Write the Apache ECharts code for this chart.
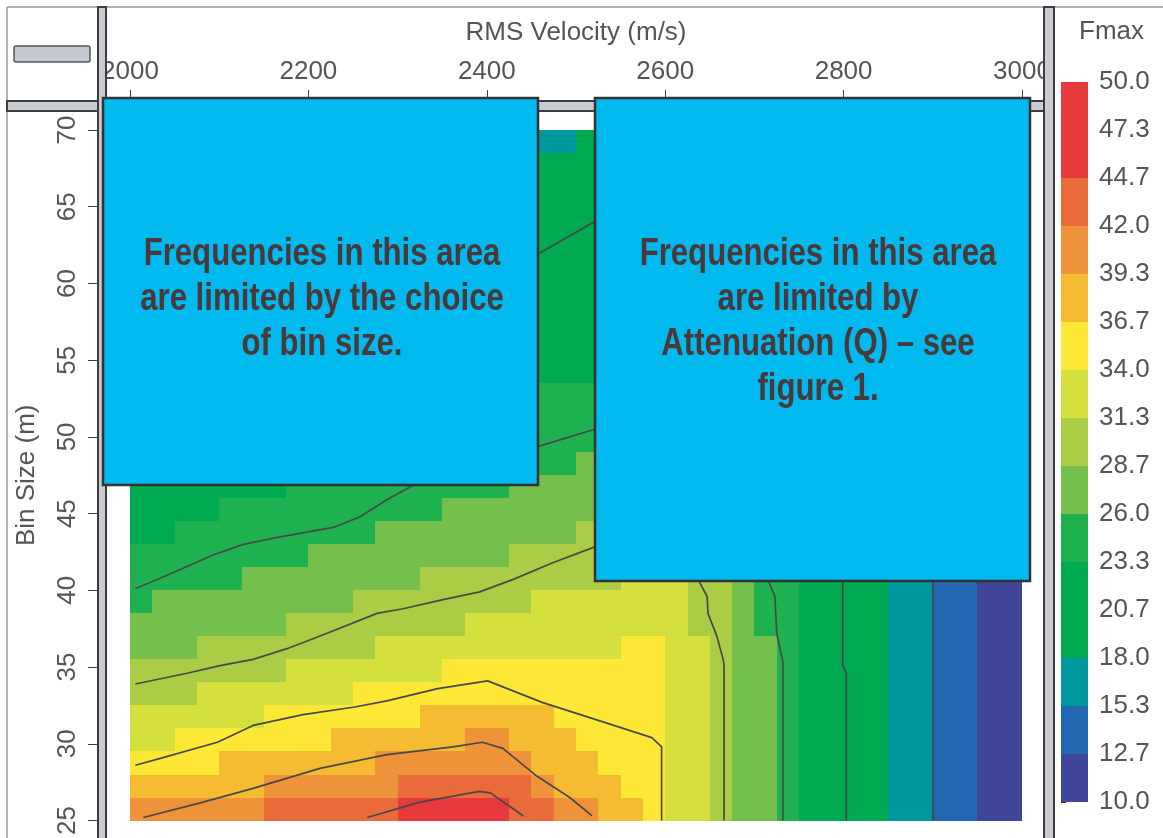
<!DOCTYPE html>
<html>
<head>
<meta charset="utf-8">
<title>Fmax by RMS velocity and bin size</title>
<script src="https://cdn.jsdelivr.net/npm/echarts@6/dist/echarts.min.js"></script>
<style>
  html, body { margin: 0; padding: 0; background: #fff; }
  #chart { width: 1163px; height: 838px; }
</style>
</head>
<body>
<div id="chart"></div>
<script>
// cell start of each column (m/s) and each row (m)
const velocity = [2000, 2025, 2050, 2075, 2100, 2125, 2150, 2175, 2200, 2225,
  2250, 2275, 2300, 2325, 2350, 2375, 2400, 2425, 2450, 2475,
  2500, 2525, 2550, 2575, 2600, 2625, 2650, 2675, 2700, 2725,
  2750, 2775, 2800, 2825, 2850, 2875, 2900, 2925, 2950, 2975];
const binSize = [25, 26.5, 28, 29.5, 31, 32.5, 34, 35.5, 37, 38.5,
  40, 41.5, 43, 44.5, 46, 47.5, 49, 50.5, 52, 53.5,
  55, 56.5, 58, 59.5, 61, 62.5, 64, 65.5, 67, 68.5];

// Fmax (Hz), one row per bin size, bottom row first
const fmaxRows = [
  [39.4, 39.6, 40.1, 40.5, 41.0, 41.5, 42.0, 42.5, 43.0, 43.4, 43.9, 44.4, 44.9, 45.4, 45.9, 46.4, 46.0, 43.5, 42.2, 40.5, 39.5, 38.0, 37.0, 35.0, 33, 33, 30, 27, 27, 25, 21, 21, 21, 21, 17, 17, 14, 14, 11, 11],
  [36.9, 37.4, 37.8, 38.3, 38.8, 39.2, 39.7, 40.1, 40.6, 41.1, 41.5, 41.9, 42.4, 42.9, 43.4, 43.8, 44.3, 42.3, 40.5, 38.5, 38.0, 37.5, 35.0, 35.0, 33, 33, 30, 27, 27, 25, 21, 21, 21, 21, 17, 17, 14, 14, 11, 11],
  [35.0, 35.4, 35.9, 36.3, 36.7, 37.2, 37.6, 38.0, 38.5, 38.9, 39.3, 39.8, 40.2, 40.7, 41.1, 41.5, 41.5, 39.5, 38.5, 38.0, 37.5, 36.0, 35.0, 35.0, 33, 33, 30, 27, 27, 25, 21, 21, 21, 21, 17, 17, 14, 14, 11, 11],
  [33.3, 33.7, 34.1, 34.5, 34.9, 35.3, 35.7, 36.2, 36.6, 37.0, 37.4, 37.8, 38.2, 38.6, 39.1, 39.5, 39.5, 38.5, 38.0, 37.5, 36.5, 35.0, 35.0, 35.0, 33, 33, 30, 27, 27, 25, 21, 21, 21, 21, 17, 17, 14, 14, 11, 11],
  [31.7, 32.1, 32.5, 32.9, 33.3, 33.7, 34.1, 34.5, 34.8, 35.2, 35.6, 36.0, 36.4, 36.8, 37.2, 37.6, 38.0, 37.5, 37.0, 36.0, 35.0, 35.0, 35.0, 35.0, 33, 33, 30, 27, 27, 25, 21, 21, 21, 21, 17, 17, 14, 14, 11, 11],
  [30.3, 30.6, 31.0, 31.4, 31.8, 32.1, 32.5, 32.9, 33.3, 33.6, 34.0, 34.4, 34.8, 35.2, 35.5, 35.9, 36.3, 35.5, 35.0, 35.0, 35.0, 35.0, 35.0, 35.0, 33, 33, 30, 27, 27, 25, 21, 21, 21, 21, 17, 17, 14, 14, 11, 11],
  [29.0, 29.3, 29.7, 30.0, 30.4, 30.8, 31.1, 31.5, 31.8, 32.2, 32.5, 32.9, 33.3, 33.6, 34.0, 34.4, 34.7, 34.5, 35.0, 35.0, 35.0, 35.0, 35.0, 35.0, 33, 33, 30, 27, 27, 25, 21, 21, 21, 21, 17, 17, 14, 14, 11, 11],
  [27.8, 28.1, 28.5, 28.8, 29.1, 29.5, 29.8, 30.2, 30.5, 30.9, 31.2, 31.6, 31.9, 32.2, 32.6, 32.9, 33.3, 33.5, 33.5, 33.5, 33.5, 33.8, 34.2, 34.5, 33, 33, 30, 27, 27, 25, 21, 21, 21, 21, 17, 17, 14, 14, 11, 11],
  [26.7, 27.0, 27.3, 27.7, 28.0, 28.3, 28.6, 29.0, 29.3, 29.6, 30.0, 30.3, 30.6, 31.0, 31.3, 31.6, 32.0, 32.3, 32.6, 33.0, 33.3, 33.6, 33.9, 33.5, 33.0, 30, 30, 27, 25, 25, 21, 21, 21, 21, 17, 17, 14, 14, 11, 11],
  [25.6, 26.0, 26.3, 26.6, 26.9, 27.2, 27.5, 27.9, 28.2, 28.5, 28.8, 29.1, 29.5, 29.8, 30.1, 30.4, 30.7, 31.0, 31.4, 31.7, 32.0, 32.3, 32.6, 33.0, 33.0, 30, 30, 27, 25, 25, 21, 21, 21, 21, 17, 17, 14, 14, 11, 11],
  [24.7, 25.0, 25.3, 25.6, 25.9, 26.2, 26.5, 26.8, 27.1, 27.5, 27.8, 28.1, 28.4, 28.7, 29.0, 29.3, 29.6, 29.9, 30.2, 30.5, 30.8, 31.1, 31.4, 31.7, 32.1, 30, 30, 27, 25, 25, 21, 21, 21, 21, 17, 17, 14, 14, 11, 11],
  [23.8, 24.1, 24.4, 24.7, 25.0, 25.3, 25.6, 25.9, 26.2, 26.5, 26.8, 27.1, 27.4, 27.7, 28.0, 28.3, 28.6, 28.9, 29.1, 29.4, 29.7, 30.0, 30.3, 30.6, 30.9, 30, 30, 27, 25, 25, 21, 21, 21, 21, 17, 17, 14, 14, 11, 11],
  [23.0, 23.3, 23.6, 23.9, 24.1, 24.4, 24.7, 25.0, 25.3, 25.6, 25.9, 26.1, 26.4, 26.7, 27.0, 27.3, 27.6, 27.9, 28.1, 28.4, 28.7, 29.0, 29.3, 29.6, 29.9, 29.5, 29, 27, 25, 25, 21, 21, 21, 21, 17, 17, 14, 14, 11, 11],
  [22.2, 22.5, 22.8, 23.1, 23.4, 23.6, 23.9, 24.2, 24.4, 24.7, 25.0, 25.3, 25.6, 25.8, 26.1, 26.4, 26.6, 26.9, 27.2, 27.5, 27.8, 28.0, 28.3, 28.6, 28.9, 29, 28.5, 27, 25, 25, 21, 21, 21, 21, 17, 17, 14, 14, 11, 11],
  [21.5, 21.8, 22.1, 22.3, 22.6, 22.9, 23.1, 23.4, 23.7, 23.9, 24.2, 24.5, 24.7, 25.0, 25.3, 25.5, 25.8, 26.1, 26.3, 26.6, 26.9, 27.1, 27.4, 27.7, 28, 28, 28, 27, 25, 25, 21, 21, 21, 21, 17, 17, 14, 14, 11, 11],
  [20.9, 21.1, 21.4, 21.6, 21.9, 22.2, 22.4, 22.7, 22.9, 23.2, 23.5, 23.7, 24.0, 24.2, 24.5, 24.7, 25.0, 25.3, 25.5, 25.8, 26.0, 26.3, 26.6, 26.8, 27.1, 27.4, 27.6, 27, 25, 25, 21, 21, 21, 21, 17, 17, 14, 14, 11, 11],
  [20.2, 20.5, 20.7, 21.0, 21.2, 21.5, 21.7, 22.0, 22.2, 22.5, 22.7, 23.0, 23.2, 23.5, 23.7, 24.0, 24.2, 24.5, 24.7, 25.0, 25.2, 25.5, 25.8, 26.0, 26.3, 26.5, 26.8, 26.5, 25, 25, 21, 21, 21, 21, 17, 17, 14, 14, 11, 11],
  [19.6, 19.9, 20.1, 20.4, 20.6, 20.9, 21.1, 21.3, 21.6, 21.8, 22.1, 22.3, 22.6, 22.8, 23.0, 23.3, 23.5, 23.8, 24.0, 24.3, 24.5, 24.8, 25.0, 25.2, 25.5, 25.7, 26, 26, 25, 24, 21, 21, 21, 21, 17, 17, 14, 14, 11, 11],
  [19.1, 19.3, 19.6, 19.8, 20.0, 20.3, 20.5, 20.7, 21.0, 21.2, 21.4, 21.7, 21.9, 22.2, 22.4, 22.6, 22.9, 23.1, 23.4, 23.6, 23.8, 24.0, 24.3, 24.5, 24.8, 25, 25, 25, 24.5, 24, 21, 21, 21, 21, 17, 17, 14, 14, 11, 11],
  [18.6, 18.8, 19.0, 19.2, 19.5, 19.7, 19.9, 20.2, 20.4, 20.6, 20.9, 21.1, 21.3, 21.5, 21.8, 22.0, 22.2, 22.5, 22.7, 22.9, 23.2, 23.4, 23.6, 23.8, 24.1, 24.3, 24.5, 24.5, 24, 23.5, 21, 21, 21, 21, 17, 17, 14, 14, 11, 11],
  [18.1, 18.3, 18.5, 18.7, 19.0, 19.2, 19.4, 19.6, 19.8, 20.1, 20.3, 20.5, 20.7, 21.0, 21.2, 21.4, 21.6, 21.9, 22.1, 22.3, 22.5, 22.8, 23.0, 23.2, 23.4, 23.6, 23.9, 24, 23.5, 23, 21, 21, 21, 21, 17, 17, 14, 14, 11, 11],
  [17.6, 17.8, 18.0, 18.2, 18.5, 18.7, 18.9, 19.1, 19.3, 19.5, 19.8, 20.0, 20.2, 20.4, 20.6, 20.9, 21.1, 21.3, 21.5, 21.7, 21.9, 22.2, 22.4, 22.6, 22.8, 23.0, 23.3, 23.4, 23.0, 22.5, 21, 21, 21, 21, 17, 17, 14, 14, 11, 11],
  [17.1, 17.3, 17.6, 17.8, 18.0, 18.2, 18.4, 18.6, 18.8, 19.0, 19.3, 19.5, 19.7, 19.9, 20.1, 20.3, 20.5, 20.7, 21.0, 21.2, 21.4, 21.6, 21.8, 22.0, 22.2, 22.4, 22.7, 22.8, 22.5, 22.0, 21, 21, 21, 21, 17, 17, 14, 14, 11, 11],
  [16.7, 16.9, 17.1, 17.3, 17.5, 17.7, 17.9, 18.2, 18.4, 18.6, 18.8, 19.0, 19.2, 19.4, 19.6, 19.8, 20.0, 20.2, 20.4, 20.6, 20.9, 21.1, 21.3, 21.5, 21.7, 21.9, 22.1, 22.2, 22.0, 21.8, 21, 21, 21, 21, 17, 17, 14, 14, 11, 11],
  [16.3, 16.5, 16.7, 16.9, 17.1, 17.3, 17.5, 17.7, 17.9, 18.1, 18.3, 18.5, 18.7, 18.9, 19.1, 19.3, 19.5, 19.7, 19.9, 20.1, 20.3, 20.5, 20.7, 20.9, 21.1, 21.3, 21.5, 21.6, 21.5, 21.3, 21, 21, 20.5, 20, 17, 17, 14, 14, 11, 11],
  [15.9, 16.1, 16.3, 16.5, 16.7, 16.9, 17.1, 17.3, 17.5, 17.7, 17.9, 18.1, 18.3, 18.5, 18.7, 18.9, 19.1, 19.3, 19.5, 19.7, 19.9, 20.1, 20.3, 20.5, 20.6, 20.8, 21.0, 21.0, 21.0, 20.8, 20.5, 20.5, 20.0, 19.5, 17, 17, 14, 14, 11, 11],
  [15.5, 15.7, 15.9, 16.1, 16.3, 16.5, 16.7, 16.9, 17.1, 17.3, 17.5, 17.7, 17.9, 18.1, 18.2, 18.4, 18.6, 18.8, 19.0, 19.2, 19.4, 19.6, 19.8, 20.0, 20.2, 20.4, 20.5, 20.6, 20.6, 20.4, 20.0, 20.0, 19.5, 19.0, 17, 17, 14, 14, 11, 11],
  [15.2, 15.4, 15.6, 15.8, 15.9, 16.1, 16.3, 16.5, 16.7, 16.9, 17.1, 17.3, 17.5, 17.6, 17.8, 18.0, 18.2, 18.4, 18.6, 18.8, 19.0, 19.2, 19.3, 19.5, 19.7, 19.9, 20.0, 20.1, 20.1, 20.0, 19.6, 19.5, 19.0, 18.5, 17, 17, 14, 14, 11, 11],
  [14.9, 15.0, 15.2, 15.4, 15.6, 15.8, 16.0, 16.1, 16.3, 16.5, 16.7, 16.9, 17.1, 17.3, 17.4, 17.6, 17.8, 18.0, 18.2, 18.4, 18.5, 18.7, 18.9, 19.1, 19.3, 19.5, 19.6, 19.7, 19.7, 19.5, 19.2, 19.0, 18.7, 18.3, 17, 17, 14, 14, 11, 11],
  [14.5, 14.7, 14.9, 15.1, 15.3, 15.4, 15.6, 15.8, 16.0, 16.2, 16.3, 16.5, 16.7, 16.9, 17.1, 17.2, 17.4, 17.6, 17.8, 17.9, 18.1, 18.3, 18.5, 18.7, 18.9, 19.0, 19.2, 19.3, 19.3, 19.1, 18.8, 18.6, 18.3, 18.0, 17, 17, 14, 14, 11, 11]
];

// colour scale
const bandEdges = [10, 12.667, 15.333, 18, 20.667, 23.333, 26, 28.667, 31.333, 34, 36.667, 39.333, 42, 44.667, 47.333, 50];
const bandLabels = ['10.0', '12.7', '15.3', '18.0', '20.7', '23.3', '26.0', '28.7', '31.3', '34.0', '36.7', '39.3', '42.0', '44.7', '47.3', '50.0'];
const bandColors = ['#3f4598', '#2267b1', '#00979d', '#00aa50', '#00aa50', '#1fb150', '#75bf4c',
  '#aacd45', '#d5df3e', '#fde935', '#f5bc33', '#ef933a', '#ea6b3a', '#e8393d', '#e8393d'];

// contour lines [velocity, bin size]
const contour15 = [[2900, 42], [2900, 25]];
const contour20 = [[2000, 50.3], [2200, 55.4], [2400, 60.4], [2460, 62.0], [2520, 64.0], [2600, 64], [2700, 58],
  [2790, 48], [2799, 40.7], [2799, 35.1], [2803, 34.6], [2803, 25]];
const contour26 = [[2006, 40.1], [2050, 41.2], [2093, 42.3], [2127, 43.0], [2161, 43.4], [2198, 43.8], [2228, 44.1],
  [2258, 44.8], [2288, 45.9], [2322, 47.0], [2400, 48.2], [2459, 49.4], [2521, 50.5], [2600, 50], [2680, 46],
  [2715, 40.7], [2723, 39.6], [2725, 37.2], [2732, 35.3], [2732, 25]];
const contour31 = [[2006, 33.9], [2064, 34.6], [2101, 35.1], [2138, 35.5], [2176, 36.2], [2221, 37.2], [2277, 38.5],
  [2306, 38.8], [2351, 39.4], [2392, 39.9], [2429, 40.7], [2474, 41.8], [2524, 42.9], [2600, 43], [2637, 40.7],
  [2647, 39.6], [2648, 38.5], [2658, 37.0], [2665, 35.5], [2666, 35.1], [2666, 25]];
const contour36 = [[2006, 28.6], [2037, 29.1], [2098, 30.1], [2138, 31.2], [2194, 31.9], [2252, 32.4], [2288, 32.8],
  [2345, 33.6], [2401, 34.1], [2462, 32.7], [2532, 31.4], [2585, 30.4], [2596, 29.8], [2596, 25]];
const contour42 = [[2015, 25.2], [2082, 26.2], [2138, 27.1], [2213, 28.4], [2288, 29.3], [2362, 29.8], [2395, 30.1],
  [2418, 29.7], [2456, 27.9], [2493, 26.5], [2518, 25.3]];
const contour47 = [[2266, 25.2], [2325, 26.2], [2392, 26.9], [2404, 26.8], [2441, 25.3]];

const FONT = '"Liberation Sans", Arial, sans-serif';
const INK = '#555';
const NOTE_FONT = 'bold 38px "Liberation Sans", Arial, sans-serif';
const NOTE_INK = '#4b3838';

const vStep = velocity[1] - velocity[0];
const bStep = binSize[1] - binSize[0];
const cells = [];
fmaxRows.forEach((row, i) => {
  row.forEach((f, j) => cells.push([velocity[j], binSize[i], f]));
});
const legendCells = bandColors.map((c, i) => [0, i, (bandEdges[i] + bandEdges[i + 1]) / 2]);

const pieces = bandColors.map((c, i) => {
  const p = { gte: bandEdges[i], color: c };
  if (i === bandColors.length - 1) p.lte = bandEdges[i + 1];
  else p.lt = bandEdges[i + 1];
  return p;
});

// snap cell edges to whole pixels so neighbouring cells meet without seams
function snapRect(a, b) {
  const x0 = Math.round(a[0]), y0 = Math.round(a[1]);
  return { x: x0, y: y0, width: Math.round(b[0]) - x0, height: Math.round(b[1]) - y0 };
}
function cellRect(params, api) {
  const a = api.coord([api.value(0), api.value(1) + bStep]);
  const b = api.coord([api.value(0) + vStep, api.value(1)]);
  return { type: 'rect', shape: snapRect(a, b), style: { fill: api.visual('color'), lineWidth: 0 } };
}
function legendRect(params, api) {
  const a = api.coord([0, api.value(1) + 1]);
  const b = api.coord([1, api.value(1)]);
  return { type: 'rect', shape: snapRect(a, b), style: { fill: api.visual('color'), lineWidth: 0 } };
}
const contourLine = data => ({
  type: 'line',
  data: data,
  xAxisIndex: 0,
  yAxisIndex: 0,
  showSymbol: false,
  silent: true,
  z: 5,
  lineStyle: { color: '#484848', width: 1.7 }
});

const frameStyle = { fill: '#c9ccd2', stroke: '#3d3d3d', lineWidth: 2 };
const boxStyle = { fill: '#00b9ef', stroke: '#333', lineWidth: 2.5 };

const chart = echarts.init(document.getElementById('chart'));
chart.setOption({
  animation: false,
  backgroundColor: '#fff',
  title: {
    text: 'Fmax',
    left: 1074,
    top: 14,
    textStyle: { fontSize: 26, fontWeight: 'normal', color: INK, fontFamily: FONT }
  },
  grid: [
    { left: 130, top: 130, width: 892, height: 696 },
    { left: 1061, top: 82, width: 27, height: 720 }
  ],
  xAxis: [
    {
      type: 'value', min: 2000, max: 3000, interval: 200,
      position: 'top', offset: 30,
      name: 'RMS Velocity (m/s)', nameLocation: 'middle', nameGap: 54,
      nameTextStyle: { fontSize: 26, color: INK, fontFamily: FONT },
      axisLine: { show: true, lineStyle: { color: '#3d3d3d' } },
      axisTick: { show: true, length: 10, lineStyle: { color: '#3d3d3d' } },
      axisLabel: { fontSize: 26, color: INK, fontFamily: FONT, margin: 15, formatter: v => String(v) },
      splitLine: { show: false }
    },
    { gridIndex: 1, type: 'value', min: 0, max: 1, show: false }
  ],
  yAxis: [
    {
      type: 'value', min: 25, max: 70, interval: 5,
      position: 'left', offset: 33,
      name: 'Bin Size (m)', nameLocation: 'middle', nameGap: 57,
      nameTextStyle: { fontSize: 26, color: INK, fontFamily: FONT },
      axisLine: { show: true, lineStyle: { color: '#3d3d3d' } },
      axisTick: { show: true, length: 9, lineStyle: { color: '#3d3d3d' } },
      axisLabel: { rotate: 90, fontSize: 26, color: INK, fontFamily: FONT, margin: 16, formatter: v => String(v) },
      splitLine: { show: false }
    },
    {
      gridIndex: 1, type: 'value', min: 0, max: 15, interval: 1, position: 'right',
      axisLine: { show: true, lineStyle: { opacity: 0 } },
      axisTick: { show: true, length: 5, lineStyle: { color: '#333' } },
      axisLabel: { fontSize: 26, color: INK, fontFamily: FONT, margin: 11, formatter: v => bandLabels[v] },
      splitLine: { show: false }
    }
  ],
  visualMap: {
    type: 'piecewise', show: false, dimension: 2, seriesIndex: [0, 1], pieces: pieces
  },
  series: [
    { type: 'custom', renderItem: cellRect, data: cells, xAxisIndex: 0, yAxisIndex: 0, silent: true, z: 2 },
    { type: 'custom', renderItem: legendRect, data: legendCells, xAxisIndex: 1, yAxisIndex: 1, silent: true },
    contourLine(contour15),
    contourLine(contour20),
    contourLine(contour26),
    contourLine(contour31),
    contourLine(contour36),
    contourLine(contour42),
    contourLine(contour47)
  ],
  graphic: [
    { type: 'line', z: 100, shape: { x1: 7, y1: 7, x2: 1163, y2: 7 }, style: { stroke: '#999', lineWidth: 1.5 } },
    { type: 'line', z: 100, shape: { x1: 7, y1: 7, x2: 7, y2: 838 }, style: { stroke: '#999', lineWidth: 1.5 } },
    { type: 'rect', z: 100, shape: { x: 7, y: 101, width: 1040, height: 10 }, style: frameStyle },
    { type: 'rect', z: 101, shape: { x: 98, y: 7, width: 8, height: 840 }, style: frameStyle },
    { type: 'rect', z: 101, shape: { x: 1044, y: 7, width: 10, height: 840 }, style: frameStyle },
    { type: 'rect', z: 100, shape: { x: 14, y: 46, width: 76, height: 16, r: 2 },
      style: { fill: '#c5c8cf', stroke: '#555', lineWidth: 1.5 } },
    { type: 'rect', z: 110, shape: { x: 103, y: 98, width: 435, height: 387 }, style: boxStyle },
    { type: 'rect', z: 110, shape: { x: 595, y: 98, width: 435, height: 483 }, style: boxStyle },
    {
      type: 'text', z: 120, x: 322, y: 300, scaleX: 0.82,
      style: {
        text: 'Frequencies in this area\nare limited by the choice\nof bin size.',
        font: NOTE_FONT, fill: NOTE_INK, align: 'center', verticalAlign: 'middle', lineHeight: 45
      }
    },
    {
      type: 'text', z: 120, x: 818, y: 322, scaleX: 0.82,
      style: {
        text: 'Frequencies in this area\nare limited by\nAttenuation (Q) \u2013 see\nfigure 1.',
        font: NOTE_FONT, fill: NOTE_INK, align: 'center', verticalAlign: 'middle', lineHeight: 45
      }
    }
  ]
});
</script>
</body>
</html>
